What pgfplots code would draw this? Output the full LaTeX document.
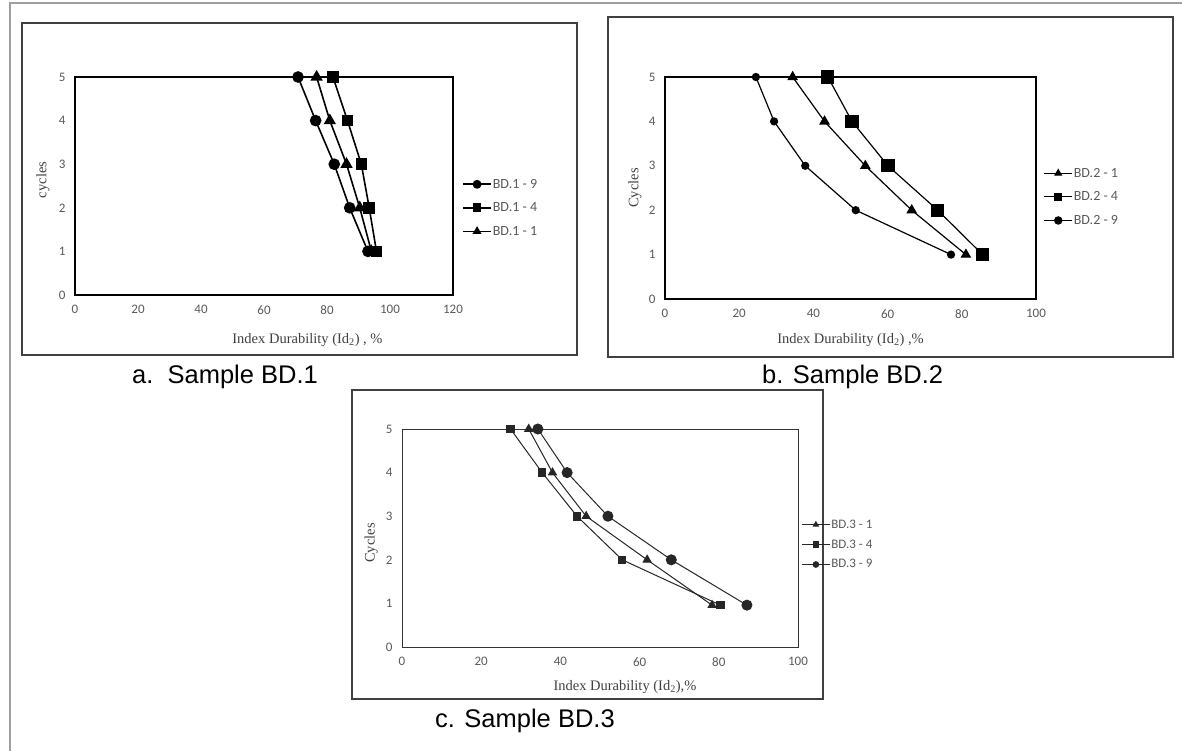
\documentclass[border=0pt]{standalone}
\usepackage{fontspec}
\setmainfont{Liberation Serif}
\newfontfamily\calibri{Carlito}
\newfontfamily\arial{Liberation Sans}
\usepackage{pgfplots}
\pgfplotsset{compat=1.18}
\definecolor{txt}{HTML}{404040}
\definecolor{tick}{HTML}{595959}
\pgfplotsset{
  panel/.style={
    scale only axis, clip=false,
    ymin=0, ymax=5, ytick={0,1,2,3,4,5},
    xmin=0,
    axis line style={black, line width=1.1pt},
    major tick length=0pt,
    tick label style={font=\fontsize{13}{13}\selectfont\calibri, text=tick},
    /pgf/number format/assume math mode=true,
    yticklabel style={xshift=-6pt},
    xticklabel style={yshift=-7pt},
    label style={font=\fontsize{14.5}{14.5}\selectfont, text=txt},
    legend cell align=left,
    legend style={draw=none, fill=none, inner sep=0pt,
      font=\fontsize{14}{14}\selectfont\calibri, text=tick,
      nodes={inner sep=1pt}, row sep=11pt},
    legend image code/.code={\draw[mark repeat=2,mark phase=2] plot coordinates {(0pt,0pt)(14pt,0pt)(28pt,0pt)};},
    legend image post style={mark size=3.6pt},
  },
}
\begin{document}
\begin{tikzpicture}
\useasboundingbox (0,0) rectangle (1182pt,-751pt);
% outer frame (top and left)
\draw[gray!75, line width=1.6pt] (10pt,-751pt) -- (10pt,-3pt) -- (1182pt,-3pt);
% panel frames
\draw[black!75, line width=1.4pt] (22pt,-23pt) rectangle (577pt,-355pt);
\draw[black!75, line width=1.4pt] (608pt,-17pt) rectangle (1173pt,-357pt);
\draw[black!75, line width=1.4pt] (352pt,-390pt) rectangle (823pt,-699pt);
% captions
\node[anchor=base west, font=\fontsize{25.5}{25.5}\selectfont\arial, inner sep=0pt] at (132pt,-383pt) {a.\ \ Sample BD.1};
\node[anchor=base west, font=\fontsize{25.5}{25.5}\selectfont\arial, inner sep=0pt] at (762pt,-383pt) {b. Sample BD.2};
\node[anchor=base west, font=\fontsize{25.5}{25.5}\selectfont\arial, inner sep=0pt] at (435pt,-727pt) {c. Sample BD.3};

% ---------- panel a ----------
\begin{axis}[panel, at={(75pt,-295pt)}, anchor=south west,
  width=378pt, height=218pt, xmax=120, xtick={0,20,...,120},
  xlabel={Index Durability (Id\textsubscript{2}) , \%}, ylabel={cycles},
  xlabel style={at={(axis description cs:0.615,-0.206)}, anchor=center},
  ylabel style={at={(axis description cs:-0.085,0.528)}, anchor=center},
  legend style={at={(1.024,0.40)}, anchor=west},
  every axis plot/.append style={black, line width=1.6pt, mark options={solid}}]
\addplot[mark=*, mark size=5pt] coordinates {(93.0,1)(87.2,2)(82.3,3)(76.4,4)(70.8,5)};
\addlegendentry{BD.1 - 9}
\addplot[mark=square*, mark size=5pt] coordinates {(95.7,1)(93.4,2)(90.9,3)(86.5,4)(81.9,5)};
\addlegendentry{BD.1 - 4}
\addplot[mark=triangle*, mark size=5.5pt] coordinates {(94.1,1)(90.4,2)(86.2,3)(80.9,4)(76.7,5)};
\addlegendentry{BD.1 - 1}
\end{axis}

% ---------- panel b ----------
\begin{axis}[panel, at={(665pt,-299pt)}, anchor=south west,
  width=371pt, height=222pt, xmax=100, xtick={0,20,...,100},
  xlabel={Index Durability (Id\textsubscript{2}) ,\%}, ylabel={Cycles},
  xlabel style={at={(axis description cs:0.5,-0.185)}, anchor=center},
  ylabel style={at={(axis description cs:-0.081,0.5)}, anchor=center},
  legend style={at={(1.02,0.46)}, anchor=west},
  every axis plot/.append style={black, line width=1.2pt, mark options={solid}}]
\addplot[mark=triangle*, mark size=5pt] coordinates {(81.1,1)(66.5,2)(54.0,3)(43.0,4)(34.4,5)};
\addlegendentry{BD.2 - 1}
\addplot[mark=square*, mark size=6pt] coordinates {(85.6,1)(73.5,2)(60.1,3)(50.4,4)(43.9,5)};
\addlegendentry{BD.2 - 4}
\addplot[mark=*, mark size=3.5pt] coordinates {(77.1,1)(51.4,2)(37.8,3)(29.4,4)(24.5,5)};
\addlegendentry{BD.2 - 9}
\end{axis}

% ---------- panel c ----------
\begin{axis}[panel, at={(402pt,-647pt)}, anchor=south west,
  width=396pt, height=218pt, xmax=100, xtick={0,20,...,100},
  axis line style={black!80, line width=1pt},
  xlabel={Index Durability (Id\textsubscript{2}),\%}, ylabel={Cycles},
  xlabel style={at={(axis description cs:0.563,-0.183)}, anchor=center},
  ylabel style={at={(axis description cs:-0.078,0.477)}, anchor=center},
  legend style={at={(1.008,0.47)}, anchor=west, row sep=8pt,
    font=\fontsize{13}{13}\selectfont\calibri},
  legend image post style={mark size=2.8pt},
  every axis plot/.append style={black!85, line width=1pt, mark options={solid}}]
\addplot[mark=triangle*, mark size=4.5pt] coordinates {(78.3,0.96)(61.9,2)(46.5,3)(38.0,4)(32.0,5)};
\addlegendentry{BD.3 - 1}
\addplot[mark=square*, mark size=3.8pt] coordinates {(80.4,0.96)(55.6,2)(44.2,3)(35.4,4)(27.4,5)};
\addlegendentry{BD.3 - 4}
\addplot[mark=*, mark size=5pt] coordinates {(87.1,0.96)(68.0,2)(52.0,3)(41.7,4)(34.3,5)};
\addlegendentry{BD.3 - 9}
\end{axis}
\end{tikzpicture}
\end{document}
